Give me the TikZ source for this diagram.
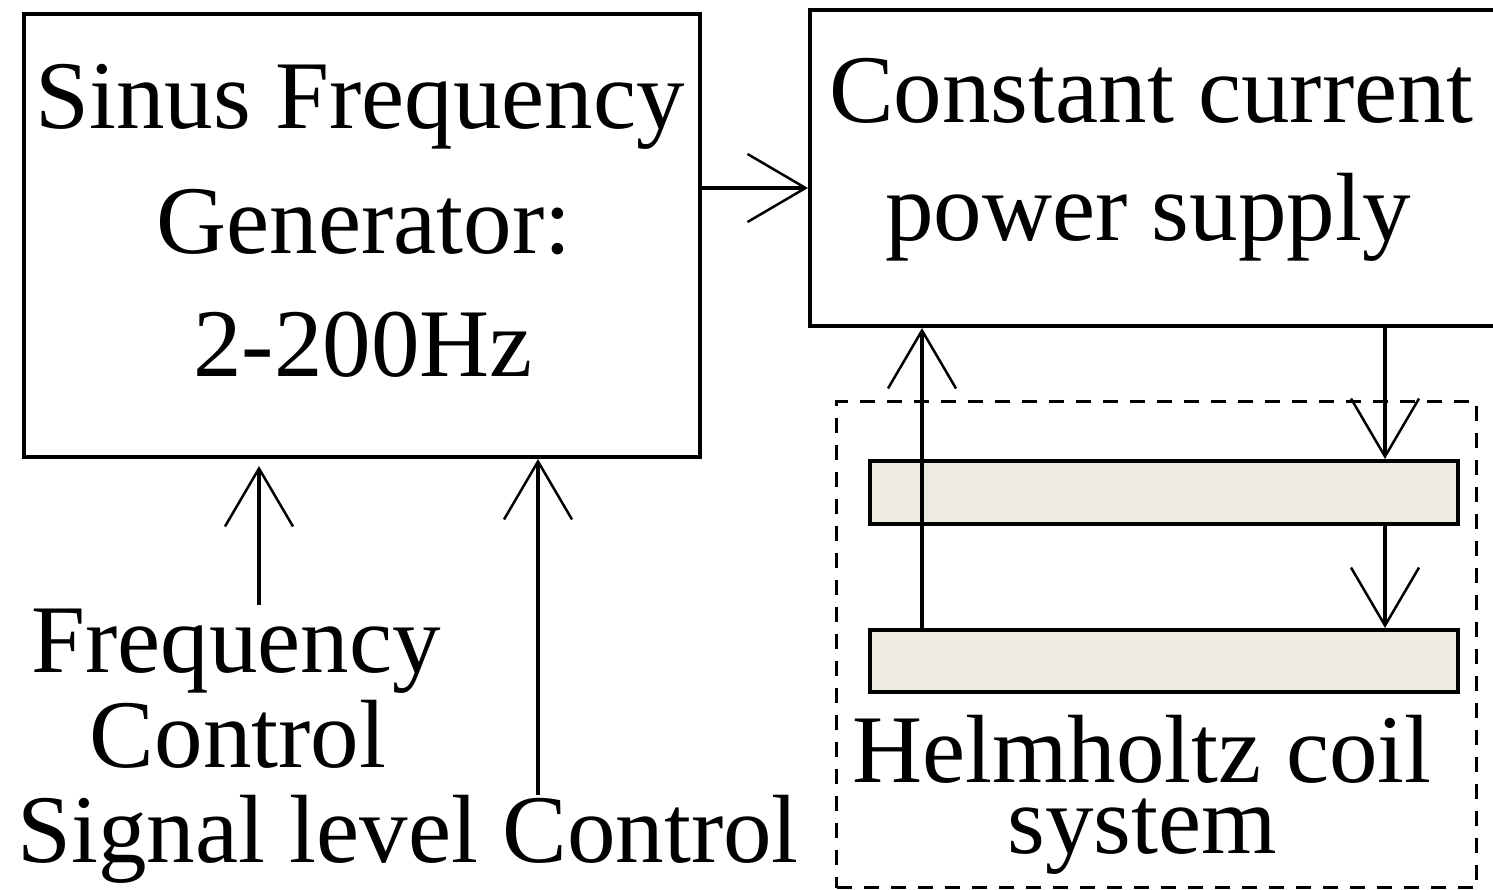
\documentclass[tikz,border=0pt]{standalone}
\usepackage{fontspec}
\setmainfont{Liberation Serif}
\usetikzlibrary{arrows.meta}
\definecolor{coilfill}{RGB}{237,234,224}
\begin{document}
\begin{tikzpicture}[x=1pt,y=-1pt,
  lbl/.style={font=\fontsize{97pt}{100pt}\selectfont, anchor=base, inner sep=0pt},
  blk/.style={draw, line width=4pt, anchor=north west, inner sep=0pt},
  coil/.style={draw, fill=coilfill, line width=4pt, anchor=north west, inner sep=0pt},
  arr/.style={line width=3.5pt, -{Straight Barb[length=58pt,width=68pt,line width=2.5pt]}},
  con/.style={line width=3.5pt}]
\useasboundingbox (0,0) rectangle (1493,889);
% blocks
\node[blk, minimum width=676pt, minimum height=443pt] (gen) at (22,12) {};
\node[blk, minimum width=690pt, minimum height=316pt] (ps) at (808,8) {};
\node[draw, dash pattern=on 15pt off 12pt, line width=3pt, anchor=north west, inner sep=0pt,
      minimum width=640pt, minimum height=486pt] (hh) at (835,400) {};
\node[coil, minimum width=588pt, minimum height=63pt] (coilA) at (868,459) {};
\node[coil, minimum width=588pt, minimum height=62pt] (coilB) at (868,628) {};
% texts
\node[lbl] (g1) at (360,128) {Sinus Frequency};
\node[lbl] (g2) at (364,253) {Generator:};
\node[lbl] (g3) at (363,376) {2-200Hz};
\node[lbl] (p1) at (1151,122) {Constant current};
\node[lbl] (p2) at (1148,240) {power supply};
\node[lbl] (f1) at (236,672) {Frequency};
\node[lbl] (f2) at (238,767) {Control};
\node[lbl] (s1) at (408,862) {Signal level Control};
\node[lbl, font=\fontsize{97pt}{71pt}\selectfont, align=center, anchor=north] (h1) at (1142,715)
  {Helmholtz coil\\system};
% connector ends
\coordinate (fcs) at (259,605);
\coordinate (fce) at (259,466);
\coordinate (sls) at (538,795);
% connectors
\draw[arr] (fcs) -- (fce);
\draw[arr] (sls) -- (gen.south -| sls);
\draw[arr] (ps.south -| 1385,0) -- (coilA.north -| 1385,0);
\draw[arr] (coilA.south -| 1385,0) -- (coilB.north -| 1385,0);
\draw[arr] (coilB.north -| 922,0) -- (ps.south -| 922,0);
\draw[arr] (gen.east |- 0,188) -- (ps.west |- 0,188);
\end{tikzpicture}
\end{document}
